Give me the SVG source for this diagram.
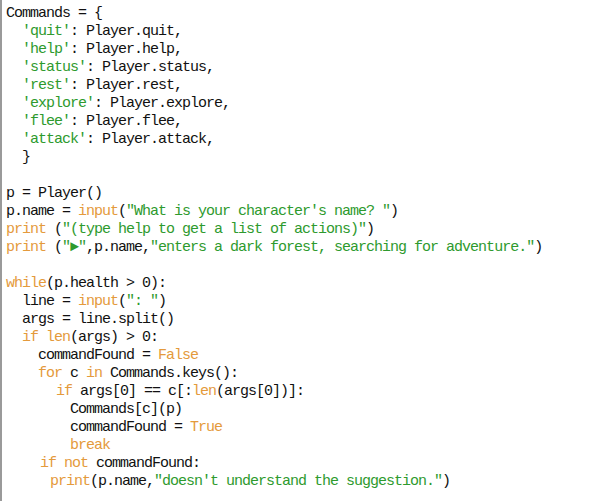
<svg xmlns="http://www.w3.org/2000/svg" width="616" height="501" viewBox="0 0 616 501">
<style>
text{font-family:"Liberation Mono","DejaVu Sans Mono",monospace;font-size:15px;letter-spacing:-1px;fill:#111;white-space:pre}
.s{fill:#2e9a2e}
.k{fill:#e49a3c}
</style>
<rect width="616" height="501" fill="#fff"/>
<rect x="0" y="0" width="2" height="501" fill="#9a9a9a"/>
<g id="code">
<text x="6" y="17">Commands = {</text>
<text x="22" y="35"><tspan class="s">'quit'</tspan>: Player.quit,</text>
<text x="22" y="53"><tspan class="s">'help'</tspan>: Player.help,</text>
<text x="22" y="71"><tspan class="s">'status'</tspan>: Player.status,</text>
<text x="22" y="89"><tspan class="s">'rest'</tspan>: Player.rest,</text>
<text x="22" y="107"><tspan class="s">'explore'</tspan>: Player.explore,</text>
<text x="22" y="125"><tspan class="s">'flee'</tspan>: Player.flee,</text>
<text x="22" y="143"><tspan class="s">'attack'</tspan>: Player.attack,</text>
<text x="22" y="161">}</text>
<text x="6" y="197">p = Player()</text>
<text x="6" y="215">p.name = <tspan class="k">input</tspan>(<tspan class="s">"What is your character's name? "</tspan>)</text>
<text x="6" y="233"><tspan class="k">print</tspan> (<tspan class="s">"(type help to get a list of actions)"</tspan>)</text>
<text x="6" y="251"><tspan class="k">print</tspan> (<tspan class="s">"►"</tspan>,p.name,<tspan class="s">"enters a dark forest, searching for adventure."</tspan>)</text>
<text x="6" y="287"><tspan class="k">while</tspan>(p.health &gt; 0):</text>
<text x="22" y="305">line = <tspan class="k">input</tspan>(<tspan class="s">": "</tspan>)</text>
<text x="22" y="323">args = line.split()</text>
<text x="22" y="341"><tspan class="k">if</tspan> <tspan class="k">len</tspan>(args) &gt; 0:</text>
<text x="38" y="359">commandFound = <tspan class="k">False</tspan></text>
<text x="38" y="377"><tspan class="k">for</tspan> c <tspan class="k">in</tspan> Commands.keys():</text>
<text x="56" y="395"><tspan class="k">if</tspan> args[0] == c[:<tspan class="k">len</tspan>(args[0])]:</text>
<text x="70" y="413">Commands[c](p)</text>
<text x="70" y="431">commandFound = <tspan class="k">True</tspan></text>
<text x="70" y="449"><tspan class="k">break</tspan></text>
<text x="40" y="467"><tspan class="k">if</tspan> <tspan class="k">not</tspan> commandFound:</text>
<text x="50" y="485"><tspan class="k">print</tspan>(p.name,<tspan class="s">"doesn't understand the suggestion."</tspan>)</text>
</g>
</svg>
